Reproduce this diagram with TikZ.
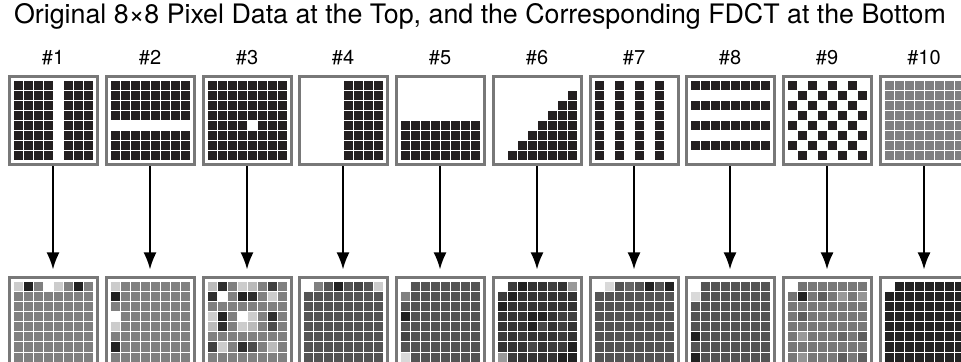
\documentclass[tikz,border=0pt]{standalone}
\usepackage{fontspec}
\setmainfont{TeX Gyre Heros}
\usetikzlibrary{arrows.meta}

\definecolor{pixblack}{RGB}{35,31,32}
\definecolor{framegray}{RGB}{120,120,120}
\definecolor{midgray}{RGB}{128,128,130}

% one pixel of a grid: centre x, centre y, row, column, colour
\newcommand{\pixcell}[5]{\fill[#5] ({#1-40+10*(#4-1)+0.5},{#2-40+10*(#3-1)+0.5}) rectangle ++(9,9);}

\begin{document}
\begin{tikzpicture}[x=0.5pt, y=-0.5pt,
    frame/.style={draw=framegray, line width=1.5pt, minimum size=44pt, inner sep=0pt},
    lbl/.style={font=\fontsize{10}{12}\selectfont},
    pointer/.style={-{Latex[length=8.5pt,width=6.5pt]}, line width=1pt, shorten >=3.5pt}]
    \clip (0,0) rectangle (961,362);

    % 1. Title
    \node[font=\fontsize{13.4}{16}\selectfont] (title) at (480,16)
        {Original 8×8 Pixel Data at the Top, and the Corresponding FDCT at the Bottom};

    % 2. Pixel data at the top
    \foreach \n/\pcol/\pat in {1/pixblack/{\cc!=5}, 2/pixblack/{\rr!=5},
        3/pixblack/{\rr!=5 || \cc!=5}, 4/pixblack/{\cc>=5}, 5/pixblack/{\rr>=5},
        6/pixblack/{\rr+\cc>=10}, 7/pixblack/{mod(\cc,2)==1},
        8/pixblack/{mod(\rr,2)==1}, 9/pixblack/{mod(\rr+\cc,2)==0}, 10/midgray/{1}} {
        \pgfmathsetmacro{\xc}{round(53+96.75*(\n-1))}
        \node[lbl] (lab\n) at (\xc,58) {\#\n};
        \node[frame] (top\n) at (\xc,121) {};
        \foreach \rr in {1,...,8} \foreach \cc in {1,...,8} {
            \pgfmathtruncatemacro{\on}{(\pat) ? 1 : 0}
            \ifnum\on=1 \pixcell{\xc}{121}{\rr}{\cc}{\pcol}\fi
        }
    }

    % 3. FDCT at the bottom: flat shade first
    \foreach \n/\base in {1/50, 2/50, 3/50, 4/67, 5/67, 6/80, 7/67, 8/67, 9/53, 10/87} {
        \pgfmathsetmacro{\xc}{round(53+96.75*(\n-1))}
        \node[frame] (bot\n) at (\xc,322) {};
        \foreach \rr in {1,...,8} \foreach \cc in {1,...,8}
            {\pixcell{\xc}{322}{\rr}{\cc}{black!\base}}
    }

    % 4. FDCT coefficients that stand out (grid/row/column/shade)
    \foreach \n/\rr/\cc/\v in {
        1/1/1/20, 1/1/2/87, 1/1/4/0, 1/1/5/20, 1/1/7/87,
        2/1/1/20, 2/2/1/87, 2/4/1/0, 2/5/1/20, 2/7/1/87,
        3/1/1/27, 3/1/2/82, 3/1/4/20, 3/1/5/27, 3/1/7/75,
        3/2/1/82, 3/2/2/0, 3/2/4/87, 3/2/5/82, 3/2/7/20,
        3/4/1/20, 3/4/2/87, 3/4/4/0, 3/4/5/20, 3/4/7/82,
        3/5/1/27, 3/5/2/82, 3/5/4/20, 3/5/5/27, 3/5/7/70,
        3/7/1/75, 3/7/2/20, 3/7/4/82, 3/7/5/70, 3/7/7/27,
        4/1/1/0, 4/1/2/50, 4/1/4/87, 4/1/6/73, 4/1/8/20,
        5/1/1/0, 5/2/1/50, 5/4/1/87, 5/6/1/73, 5/8/1/15,
        6/1/1/0, 6/1/2/77, 6/1/3/87, 6/1/6/75, 6/1/8/40,
        6/2/1/77, 6/2/2/87, 6/3/1/87,
        6/4/4/87, 6/4/5/87, 6/4/7/75, 6/4/8/75,
        6/5/4/87, 6/5/5/72, 6/5/7/75,
        6/6/1/77, 6/6/3/77, 6/6/7/77,
        6/7/4/72, 6/7/6/77, 6/7/7/77, 6/7/8/87,
        6/8/1/40, 6/8/2/77, 6/8/7/87, 6/8/8/87,
        7/1/1/0, 7/1/2/15, 7/1/4/60, 7/1/6/87, 7/1/8/87,
        8/1/1/0, 8/2/1/15, 8/6/1/87, 8/8/1/87,
        9/1/1/0, 9/1/2/55, 9/2/1/55, 9/2/2/87, 9/2/4/63, 9/2/6/40, 9/2/8/42,
        9/4/2/63, 9/6/2/40, 9/6/6/60, 9/6/8/63, 9/8/2/42, 9/8/6/63, 9/8/8/63,
        10/1/1/0} {
        \pgfmathsetmacro{\xc}{round(53+96.75*(\n-1))}
        \pixcell{\xc}{322}{\rr}{\cc}{black!\v}
    }

    % 5. Arrows from pixels to coefficients
    \foreach \n in {1,...,10}
        \draw[pointer] (top\n) -- (bot\n);
\end{tikzpicture}
\end{document}
